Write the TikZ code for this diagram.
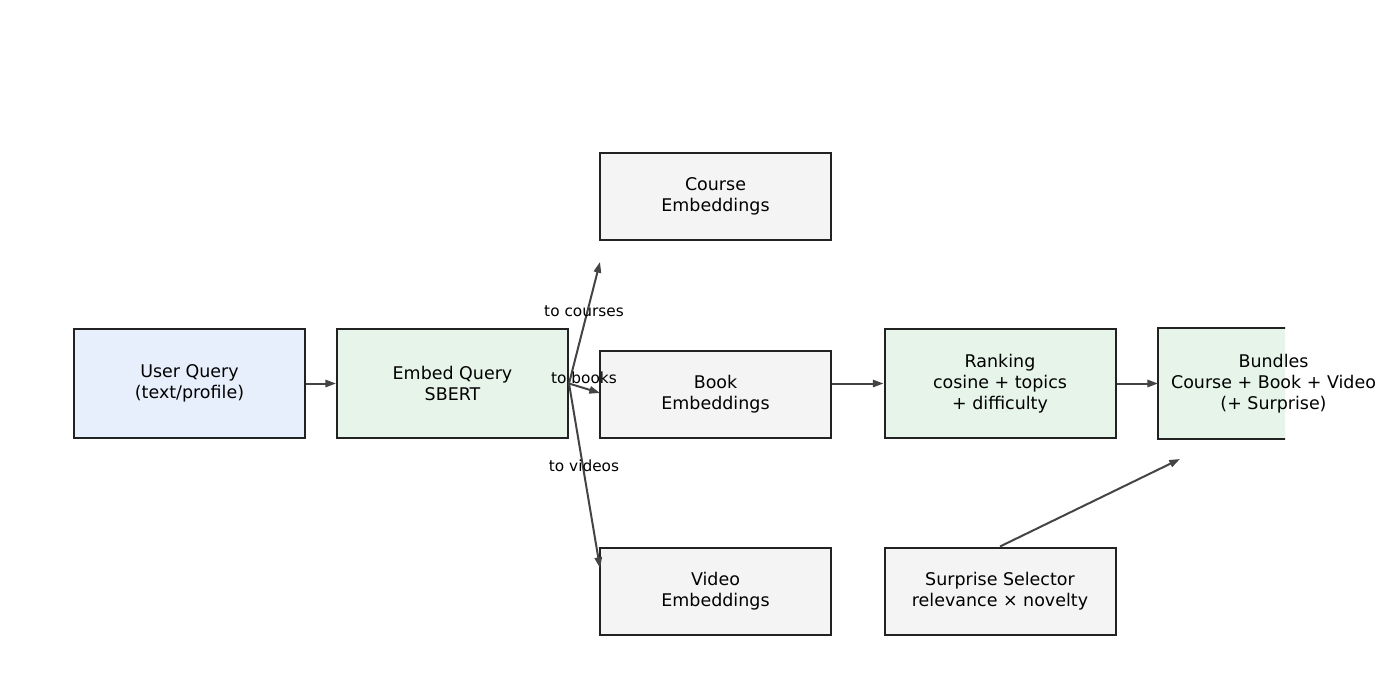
\documentclass[tikz,border=0pt]{standalone}
\usepackage{fontspec}
\setmainfont{DejaVu Sans}
\usetikzlibrary{arrows.meta,backgrounds}
\definecolor{qblue}{HTML}{E8EFFC}
\definecolor{pgreen}{HTML}{E6F4EA}
\definecolor{dgray}{HTML}{F4F4F4}
\definecolor{bord}{HTML}{222222}
\definecolor{arr}{HTML}{444444}
\begin{document}
\begin{tikzpicture}[x=0.75pt,y=-0.75pt,
  box/.style={draw=bord,line width=1.5pt,align=center,inner sep=0pt,
    minimum width=173.25pt,font=\fontsize{13.1pt}{15.75pt}\selectfont},
  tall/.style={box,minimum height=81.75pt},
  short/.style={box,minimum height=65.25pt},
  conn/.style={draw=arr,line width=1.5pt,-{Triangle[length=8pt,width=5.5pt]}},
  lbl/.style={font=\fontsize{11.5pt}{13.8pt}\selectfont,inner sep=0pt}]
\useasboundingbox (0,0) rectangle (1400,700);
\node[tall,fill=qblue] (user) at (189.5,383.5) {User Query\\(text/profile)};
\node[tall,fill=pgreen] (embed) at (452.5,383.5) {Embed Query\\SBERT};
\node[short,fill=dgray] (course) at (715.5,196.5) {Course\\Embeddings};
\node[short,fill=dgray] (book) at (715.5,394) {Book\\Embeddings};
\node[short,fill=dgray] (video) at (715.5,591) {Video\\Embeddings};
\node[tall,fill=pgreen] (rank) at (1000,383.5) {Ranking\\cosine + topics\\+ difficulty};
\node[short,fill=dgray] (surprise) at (1000,591) {Surprise Selector\\relevance × novelty};
\node[tall,draw=none] (bundles) at (1273.5,383.5) {Bundles\\Course + Book + Video\\(+ Surprise)};
\begin{scope}[on background layer]
  \clip (0,0) rectangle (1285,700);
  \draw[draw=bord,line width=1.5pt,fill=pgreen] ([xshift=0.75pt]bundles.south west) rectangle (bundles.north east);
\end{scope}
\coordinate (tc) at (600,262);
\coordinate (tv) at (600,568);
\coordinate (tb) at (1180,459);
\draw[conn] (user.east) -- (embed.east -| embed.west);
\draw[conn] (embed.east) -- (tc);
\draw[conn] (embed.east) -- (600,393);
\draw[conn] (embed.east) -- (tv);
\draw[conn] (book.east |- rank.west) -- (rank.west);
\draw[conn] (rank.east) -- ([xshift=0.75pt]bundles.west);
\draw[conn] (surprise.north) -- (tb);
\node[lbl] (l1) at (584,311.5) {to courses};
\node[lbl] (l2) at (584,377.5) {to books};
\node[lbl] (l3) at (584,465.5) {to videos};
\end{tikzpicture}
\end{document}
